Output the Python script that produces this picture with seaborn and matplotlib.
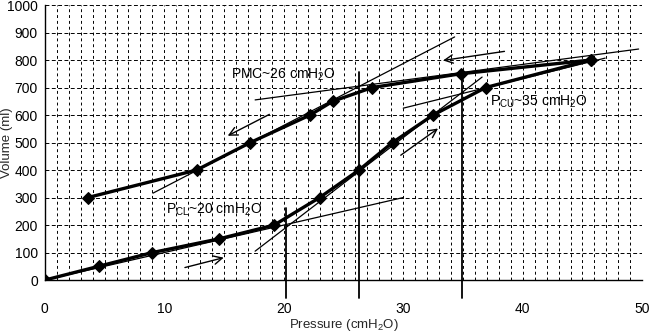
import matplotlib
matplotlib.use("Agg")
import matplotlib.pyplot as plt
import seaborn as sns
import pandas as pd
import numpy as np

# ---- data ----
insp_pressure = [0, 4.5, 9, 14.6, 19.2, 23, 26.3, 29.1, 32.5, 36.9, 45.7]
insp_volume = [0, 50, 100, 150, 200, 300, 400, 500, 600, 700, 800]
exp_pressure = [45.7, 34.8, 27.4, 24.1, 22.2, 17.2, 12.7, 3.6]
exp_volume = [800, 750, 700, 650, 600, 500, 400, 300]

# tangent lines (start/end pressure, start/end volume)
tan_p0 = [0, 17.6, 30, 17.6, 9.05]
tan_p1 = [30, 36.6, 46.9, 49.7, 34.3]
tan_v0 = [0, 105, 625, 655, 316]
tan_v1 = [300, 738, 807, 840, 884]

# vertical markers of inflection points
vline_p = [20.2, 26.3, 34.9]
vline_top = [262, 756, 765]
vline_bottom = -65

# direction arrows (from -> to)
arr_p0 = [38.7, 19.0, 29.6, 11.5]
arr_v0 = [833, 607, 448, 43]
arr_p1 = [33.1, 15.1, 33.1, 15.2]
arr_v1 = [797, 520, 557, 84]

labels = ["PMC~26 cmH$_2$O", "P$_{CU}$~35 cmH$_2$O", "P$_{CL}$~20 cmH$_2$O"]
label_p = [15.6, 37.3, 10.1]
label_v = [745, 647, 255]

x_ticks = [0, 10, 20, 30, 40, 50]
y_ticks = list(range(0, 1001, 100))

sns.set_style("white")
plt.rcParams['font.family'] = ['Liberation Sans', 'DejaVu Sans']
plt.rcParams['mathtext.default'] = 'regular'

fig = plt.figure(figsize=(6.5, 3.35), dpi=100)
ax = fig.add_axes([0.069, 0.164, 0.919, 0.821])

df_in = pd.DataFrame({"p": insp_pressure, "v": insp_volume})
df_ex = pd.DataFrame({"p": exp_pressure, "v": exp_volume})
sns.lineplot(data=df_in, x="p", y="v", sort=False, color="black", lw=2.4,
             marker="D", markersize=6, markeredgecolor="black", ax=ax, zorder=5)
sns.lineplot(data=df_ex, x="p", y="v", sort=False, color="black", lw=2.4,
             marker="D", markersize=6, markeredgecolor="black", ax=ax, zorder=5)

for a, b, c, d in zip(tan_p0, tan_p1, tan_v0, tan_v1):
    ax.plot([a, b], [c, d], color="black", lw=0.9, zorder=4)

for p, t in zip(vline_p, vline_top):
    ax.plot([p, p], [vline_bottom, t], color="black", lw=1.3, clip_on=False, zorder=4)

for a, b, c, d in zip(arr_p0, arr_v0, arr_p1, arr_v1):
    ax.annotate("", xy=(c, d), xytext=(a, b),
                arrowprops=dict(arrowstyle="->,head_length=0.6,head_width=0.3",
                                color="black", lw=1.0))

for t, p, v in zip(labels, label_p, label_v):
    ax.text(p, v, t, fontsize=10, ha="left", va="center", color="black", zorder=6)

ax.set_xlim(0, 50)
ax.set_ylim(0, 1000)
ax.set_xticks(x_ticks)
ax.set_xticks(np.arange(0, 51, 1), minor=True)
ax.set_yticks(y_ticks)

ax.xaxis.grid(True, which="both", color="black", lw=0.7, ls=(0, (3, 3)))
ax.yaxis.grid(True, which="major", color="black", lw=0.7, ls=(0, (4, 2.5)))
ax.set_axisbelow(True)

for s in ["top", "right"]:
    ax.spines[s].set_visible(False)
for s in ["left", "bottom"]:
    ax.spines[s].set_color("black")
    ax.spines[s].set_linewidth(1.0)

ax.tick_params(axis="x", which="major", direction="out", length=3, width=0.8,
               pad=13, labelsize=10, colors="black")
ax.tick_params(axis="x", which="minor", direction="out", length=3, width=0.8)
ax.tick_params(axis="y", which="major", direction="inout", length=6, width=0.8,
               pad=2, labelsize=10, colors="black")

ax.set_xlabel("Pressure (cmH$_2$O)", fontsize=9.5)
ax.set_ylabel("Volume (ml)", fontsize=9.5)
ax.xaxis.set_label_coords(0.5, -0.135)
ax.yaxis.set_label_coords(-0.053, 0.5)

fig.savefig("out.png", dpi=100)
